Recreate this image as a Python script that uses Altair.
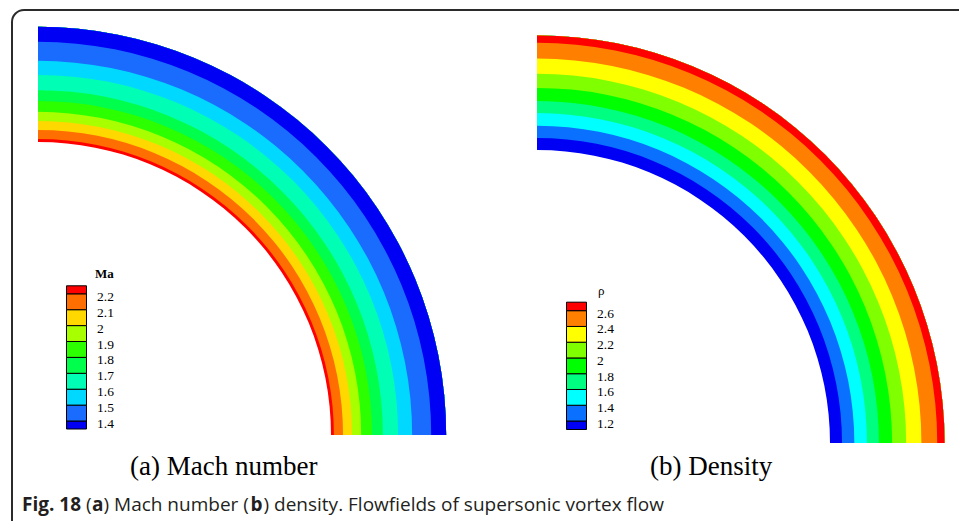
import altair as alt
import pandas as pd

# ---------------- data ----------------
# Mach number: contour band edges as r / r_inner (inner -> outer)
mach_edges = [1.000, 1.010, 1.041, 1.072, 1.103, 1.140, 1.177, 1.229, 1.277, 1.342, 1.393]
# band colours, low Mach -> high Mach (legend bottom -> top)
mach_colors = ["#0000f5", "#1a6cff", "#00d8ff", "#00ffb4", "#00ff4c",
               "#2cff00", "#a8ff00", "#ffd800", "#ff6e00", "#ff0000"]
mach_levels = [1.4, 1.5, 1.6, 1.7, 1.8, 1.9, 2.0, 2.1, 2.2]
mach_labels = ["1.4", "1.5", "1.6", "1.7", "1.8", "1.9", "2", "2.1", "2.2"]

# Density: contour band edges as r / r_inner (inner -> outer)
rho_edges = [1.000, 1.041, 1.083, 1.126, 1.167, 1.212, 1.260, 1.312, 1.366, 1.391]
# band colours, low density -> high density (legend bottom -> top)
rho_colors = ["#0000f5", "#0a70ff", "#00ffff", "#00ff80", "#00ff00",
              "#80ff00", "#ffff00", "#ff8000", "#ff0000"]
rho_levels = [1.2, 1.4, 1.6, 1.8, 2.0, 2.2, 2.4, 2.6]
rho_labels = ["1.2", "1.4", "1.6", "1.8", "2", "2.2", "2.4", "2.6"]

# ---------------- layout (canvas units) ----------------
W, H = 959, 521
PX_PER_R = 293.0
panels = {
    "mach": dict(cx=38, cy=435),
    "rho": dict(cx=537, cy=443),
}

# arcs: each band drawn from its inner edge to the outer boundary, inner first
arc_rows = []
mach_inner_to_outer = list(reversed(mach_colors))  # high Mach at the inner wall
for k, col in enumerate(mach_inner_to_outer):
    arc_rows.append(dict(x=panels["mach"]["cx"], y=panels["mach"]["cy"],
                         r_in=mach_edges[k], r_out=mach_edges[-1],
                         t0=0, t1=90, color=col))
for k, col in enumerate(rho_colors):
    arc_rows.append(dict(x=panels["rho"]["cx"], y=panels["rho"]["cy"],
                         r_in=rho_edges[k], r_out=rho_edges[-1],
                         t0=0, t1=90, color=col))
arcs_df = pd.DataFrame(arc_rows)

xs = alt.Scale(domain=[0, W], range=[0, W])
ys = alt.Scale(domain=[0, H], reverse=True)

arcs = alt.Chart(arcs_df).mark_arc(stroke=None, padAngle=0).encode(
    x=alt.X("x:Q", scale=xs, axis=None),
    y=alt.Y("y:Q", scale=ys, axis=None),
    theta=alt.Theta("t0:Q", scale=alt.Scale(domain=[0, 360], range=[0, 6.283185307])),
    theta2="t1:Q",
    radius=alt.Radius("r_out:Q", scale=alt.Scale(type="linear", zero=True,
                                                 domain=[0, 1.5], range=[0, 1.5 * PX_PER_R])),
    radius2="r_in:Q",
    color=alt.Color("color:N", scale=None),
)

# ---------------- legends ----------------
def legend_tables(colors, labels, x0, x1, y_low_level, step, half):
    boxes, labs = [], []
    n = len(labels)
    for i, col in enumerate(colors):
        if i == 0:
            yb, yt = y_low_level + half, y_low_level
        elif i == len(colors) - 1:
            yb, yt = y_low_level - (n - 1) * step, y_low_level - (n - 1) * step - half
        else:
            yb, yt = y_low_level - (i - 1) * step, y_low_level - i * step
        boxes.append(dict(x=x0, x2=x1, y=yt, y2=yb, color=col))
    for j, lab in enumerate(labels):
        labs.append(dict(x=x1 + 10.5, y=y_low_level - j * step + 3, text=lab))
    return pd.DataFrame(boxes), pd.DataFrame(labs)

mb, ml = legend_tables(mach_colors, mach_labels, 66.5, 86.5, 421.0, 15.9, 8.0)
rb, rl = legend_tables(rho_colors, rho_labels, 566.5, 586.5, 421.0, 15.76, 8.5)
boxes_df = pd.concat([mb, rb], ignore_index=True)
labels_df = pd.concat([ml, rl], ignore_index=True)

boxes = alt.Chart(boxes_df).mark_rect(stroke="#000000", strokeWidth=1).encode(
    x=alt.X("x:Q", scale=xs, axis=None), x2="x2:Q",
    y=alt.Y("y:Q", scale=ys, axis=None), y2="y2:Q",
    color=alt.Color("color:N", scale=None),
)
leg_labels = alt.Chart(labels_df).mark_text(
    align="left", baseline="middle", font="Liberation Serif", fontSize=13.5, color="#000000"
).encode(
    x=alt.X("x:Q", scale=xs, axis=None), y=alt.Y("y:Q", scale=ys, axis=None), text="text:N"
)

titles_df = pd.DataFrame([
    dict(x=95, y=274, text="Ma", weight="bold"),
    dict(x=598, y=291, text="ρ", weight="normal"),
])
leg_titles_bold = alt.Chart(titles_df[titles_df.weight == "bold"]).mark_text(
    align="left", baseline="middle", font="Liberation Serif", fontSize=13,
    fontWeight="bold", color="#000000"
).encode(x=alt.X("x:Q", scale=xs, axis=None), y=alt.Y("y:Q", scale=ys, axis=None), text="text:N")
leg_titles_norm = alt.Chart(titles_df[titles_df.weight == "normal"]).mark_text(
    align="left", baseline="middle", font="Liberation Serif", fontSize=13, color="#000000"
).encode(x=alt.X("x:Q", scale=xs, axis=None), y=alt.Y("y:Q", scale=ys, axis=None), text="text:N")

# ---------------- sub-titles ----------------
sub_df = pd.DataFrame([
    dict(x=130, y=467, text="(a) Mach number"),
    dict(x=650, y=467, text="(b) Density"),
])
subs = alt.Chart(sub_df).mark_text(
    align="left", baseline="middle", font="Liberation Serif", fontSize=27, color="#000000"
).encode(x=alt.X("x:Q", scale=xs, axis=None), y=alt.Y("y:Q", scale=ys, axis=None), text="text:N")

# ---------------- caption ----------------
cap_df = pd.DataFrame([
    dict(x=22, y=505, text="Fig. 18", weight="bold"),
    dict(x=86, y=505, text="(", weight="normal"),
    dict(x=92, y=505, text="a", weight="bold"),
    dict(x=103.5, y=505, text=") Mach number (", weight="normal"),
    dict(x=250.5, y=505, text="b", weight="bold"),
    dict(x=263.5, y=505, text=") density. Flowfields of supersonic vortex flow", weight="normal"),
])
cap_b = alt.Chart(cap_df[cap_df.weight == "bold"]).mark_text(
    align="left", baseline="middle", font="Open Sans", fontSize=19, fontWeight="bold", color="#231f20"
).encode(x=alt.X("x:Q", scale=xs, axis=None), y=alt.Y("y:Q", scale=ys, axis=None), text="text:N")
cap_n = alt.Chart(cap_df[cap_df.weight == "normal"]).mark_text(
    align="left", baseline="middle", font="Open Sans", fontSize=19, color="#231f20"
).encode(x=alt.X("x:Q", scale=xs, axis=None), y=alt.Y("y:Q", scale=ys, axis=None), text="text:N")

# ---------------- frame ----------------
frame = alt.Chart(pd.DataFrame({"a": [0]})).mark_rect(
    fill=None, stroke="#2b2b2b", strokeWidth=2, cornerRadius=12, clip=False
).encode(
    x=alt.value(12), x2=alt.value(1200), y=alt.value(10), y2=alt.value(800)
)

chart = alt.layer(
    frame, arcs, boxes, leg_labels, leg_titles_bold, leg_titles_norm, subs, cap_b, cap_n
).properties(
    width=W, height=H, padding=0, autosize=alt.AutoSizeParams(type="none")
).configure_view(stroke=None)

chart.save("out.html", embed_options={"renderer": "svg", "actions": False})
